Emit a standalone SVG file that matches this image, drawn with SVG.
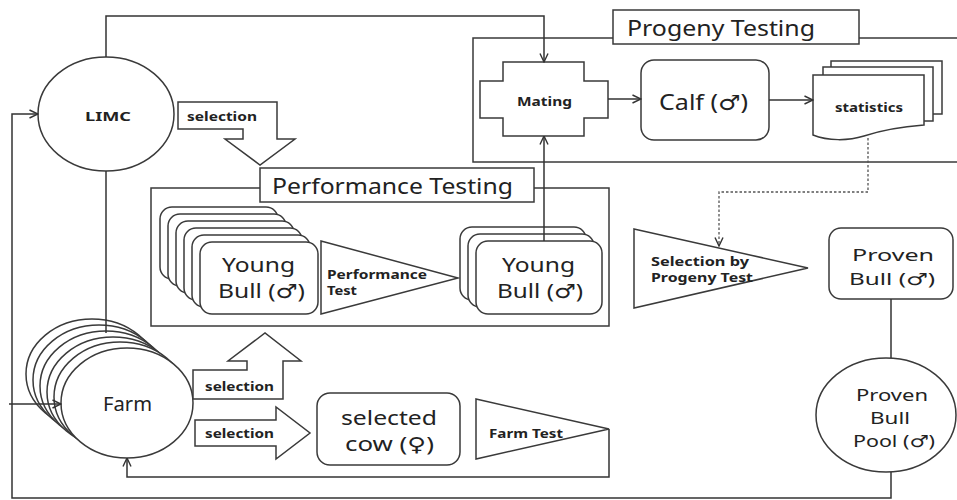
<svg xmlns="http://www.w3.org/2000/svg" width="957" height="500" viewBox="0 0 957 500">
<style>
.s{fill:#fff;stroke:#3a3a3a;stroke-width:1.5}
.c{fill:none;stroke:#333;stroke-width:1.5}
.d{fill:none;stroke:#555;stroke-width:1.3;stroke-dasharray:2.5,2}
text{font-family:"Noto Sans","Open Sans","DejaVu Sans",sans-serif;fill:#222}
.b{font-weight:bold;font-size:12.5px}
.m{font-size:19px}
.p{font-size:16.5px}
.t{font-size:21px}
</style>
<defs>
<marker id="ar" viewBox="0 0 10 10" refX="9.5" refY="5" markerWidth="10" markerHeight="10" markerUnits="userSpaceOnUse" orient="auto">
<path d="M1,1 L9.5,5 L1,9" fill="none" stroke="#333" stroke-width="1.4"/>
</marker>
</defs>
<rect width="957" height="500" fill="#fff"/>

<g id="progeny-testing">
<rect class="s" x="473" y="38" width="500" height="124"/>
<rect class="s" x="613" y="10" width="246" height="34"/>
<text class="t" x="627" y="36" font-size="22" textLength="188" lengthAdjust="spacingAndGlyphs">Progeny Testing</text>
</g>

<g id="performance-testing">
<rect class="s" x="151" y="188" width="458" height="138"/>
<rect class="s" x="260" y="168" width="274" height="34"/>
<text class="t" x="272" y="194" textLength="241" lengthAdjust="spacingAndGlyphs">Performance Testing</text>
</g>

<g id="limc">
<ellipse class="s" cx="106" cy="114" rx="68" ry="57"/>
<text class="b" x="85" y="121" font-size="15" textLength="46" lengthAdjust="spacingAndGlyphs">LIMC</text>
</g>

<g id="limc-selection">
<path class="s" d="M178,102 H277 V139 H295 L260,165 L225,139 H243 V129 H178 Z"/>
<text class="b" x="187" y="121" textLength="70" lengthAdjust="spacingAndGlyphs">selection</text>
</g>

<g id="mating">
<path class="s" d="M503,62 H584 V81 H608 V118 H584 V136 H503 V118 H480 V81 H503 Z"/>
<text class="b" x="517" y="106" font-size="13" textLength="55" lengthAdjust="spacingAndGlyphs">Mating</text>
</g>

<g id="calf">
<rect class="s" x="641" y="60" width="128" height="80" rx="13"/>
<text class="t" x="659" y="110" textLength="89" lengthAdjust="spacingAndGlyphs">Calf (♂)</text>
</g>

<g id="statistics">
<rect class="s" x="831" y="61" width="111" height="53"/>
<rect class="s" x="823" y="67" width="110" height="54"/>
<path class="s" d="M813,75 H924 V125 C898,127 882,130 864,136 C848,141 828,141 813,135 Z"/>
<text class="b" x="835" y="112" font-size="13" textLength="68" lengthAdjust="spacingAndGlyphs">statistics</text>
</g>

<g id="young-bull-group">
<rect class="s" x="160" y="207" width="118" height="72" rx="12"/>
<rect class="s" x="168" y="214" width="118" height="72" rx="12"/>
<rect class="s" x="176" y="221" width="118" height="72" rx="12"/>
<rect class="s" x="184" y="228" width="118" height="72" rx="12"/>
<rect class="s" x="192" y="235" width="118" height="72" rx="12"/>
<rect class="s" x="200" y="242" width="118" height="72" rx="12"/>
<text class="m" x="222" y="272" textLength="73" lengthAdjust="spacingAndGlyphs">Young</text>
<text class="m" x="218" y="298" textLength="87" lengthAdjust="spacingAndGlyphs">Bull (♂)</text>
</g>

<g id="performance-test">
<path class="s" d="M321,241 L458,278 L321,314 Z"/>
<text class="b" x="327" y="279" textLength="100" lengthAdjust="spacingAndGlyphs">Performance</text>
<text class="b" x="327" y="295" textLength="30" lengthAdjust="spacingAndGlyphs">Test</text>
</g>

<g id="selected-young-bull">
<rect class="s" x="460" y="227" width="126" height="73" rx="12"/>
<rect class="s" x="468" y="234" width="126" height="73" rx="12"/>
<rect class="s" x="476" y="241" width="126" height="73" rx="12"/>
<text class="m" x="502" y="272" textLength="73" lengthAdjust="spacingAndGlyphs">Young</text>
<text class="m" x="497" y="298" textLength="86" lengthAdjust="spacingAndGlyphs">Bull (♂)</text>
</g>

<g id="selection-by-progeny-test">
<path class="s" d="M634,229 L808,268 L634,308 Z"/>
<text class="b" x="651" y="266" textLength="98" lengthAdjust="spacingAndGlyphs">Selection by</text>
<text class="b" x="651" y="282" textLength="102" lengthAdjust="spacingAndGlyphs">Progeny Test</text>
</g>

<g id="proven-bull">
<rect class="s" x="829" y="228" width="124" height="71" rx="12"/>
<text class="m p" x="852" y="261" textLength="82" lengthAdjust="spacingAndGlyphs">Proven</text>
<text class="m p" x="849" y="285" textLength="86" lengthAdjust="spacingAndGlyphs">Bull (♂)</text>
</g>

<g id="proven-bull-pool">
<ellipse class="s" cx="886" cy="415" rx="70" ry="57"/>
<text class="m p" x="856" y="401" textLength="72" lengthAdjust="spacingAndGlyphs">Proven</text>
<text class="m p" x="870" y="424" textLength="40" lengthAdjust="spacingAndGlyphs">Bull</text>
<text class="m p" x="853" y="447" textLength="82" lengthAdjust="spacingAndGlyphs">Pool (♂)</text>
</g>

<g id="farm">
<ellipse class="s" cx="92" cy="374" rx="66" ry="55"/>
<ellipse class="s" cx="99" cy="380" rx="66" ry="55"/>
<ellipse class="s" cx="106" cy="386" rx="66" ry="55"/>
<ellipse class="s" cx="113" cy="392" rx="66" ry="55"/>
<ellipse class="s" cx="120" cy="397" rx="66" ry="55"/>
<ellipse class="s" cx="127" cy="403" rx="66" ry="55"/>
<text class="m" x="103" y="411" textLength="49" lengthAdjust="spacingAndGlyphs">Farm</text>
</g>

<g id="farm-selection-up">
<path class="s" d="M193,399 V370 H247 V361 H228 L265,333 L301,361 H283 V399 Z"/>
<text class="b" x="205" y="391" textLength="69" lengthAdjust="spacingAndGlyphs">selection</text>
</g>

<g id="farm-selection-right">
<path class="s" d="M195,420 H276 V407 L310,433 L276,459 V446 H195 Z"/>
<text class="b" x="205" y="438" textLength="69" lengthAdjust="spacingAndGlyphs">selection</text>
</g>

<g id="selected-cow">
<rect class="s" x="317" y="393" width="143" height="72" rx="13"/>
<text class="m" x="341" y="425" textLength="96" lengthAdjust="spacingAndGlyphs">selected</text>
<text class="m" x="345" y="451" textLength="89" lengthAdjust="spacingAndGlyphs">cow (♀)</text>
</g>

<g id="farm-test">
<path class="s" d="M476,399 L609,429 L476,459 Z"/>
<text class="b" x="489" y="438" textLength="74" lengthAdjust="spacingAndGlyphs">Farm Test</text>
</g>

<g id="connectors">
<path class="c" d="M106,57 V16 H544 V62" marker-end="url(#ar)"/>
<path class="c" d="M106,171 V333"/>
<path class="c" d="M608,99 H641" marker-end="url(#ar)"/>
<path class="c" d="M769,100 H813" marker-end="url(#ar)"/>
<path class="c" d="M544,241 V136" marker-end="url(#ar)"/>
<path class="d" d="M868,138 V192 H719 V246" marker-end="url(#ar)"/>
<path class="c" d="M891,299 V358"/>
<path class="c" d="M891,472 V498 H12 V114 H38" marker-end="url(#ar)"/>
<path class="c" d="M9,404 H61" marker-end="url(#ar)"/>
<path class="c" d="M609,429 V477 H127 V458" marker-end="url(#ar)"/>
</g>
</svg>
